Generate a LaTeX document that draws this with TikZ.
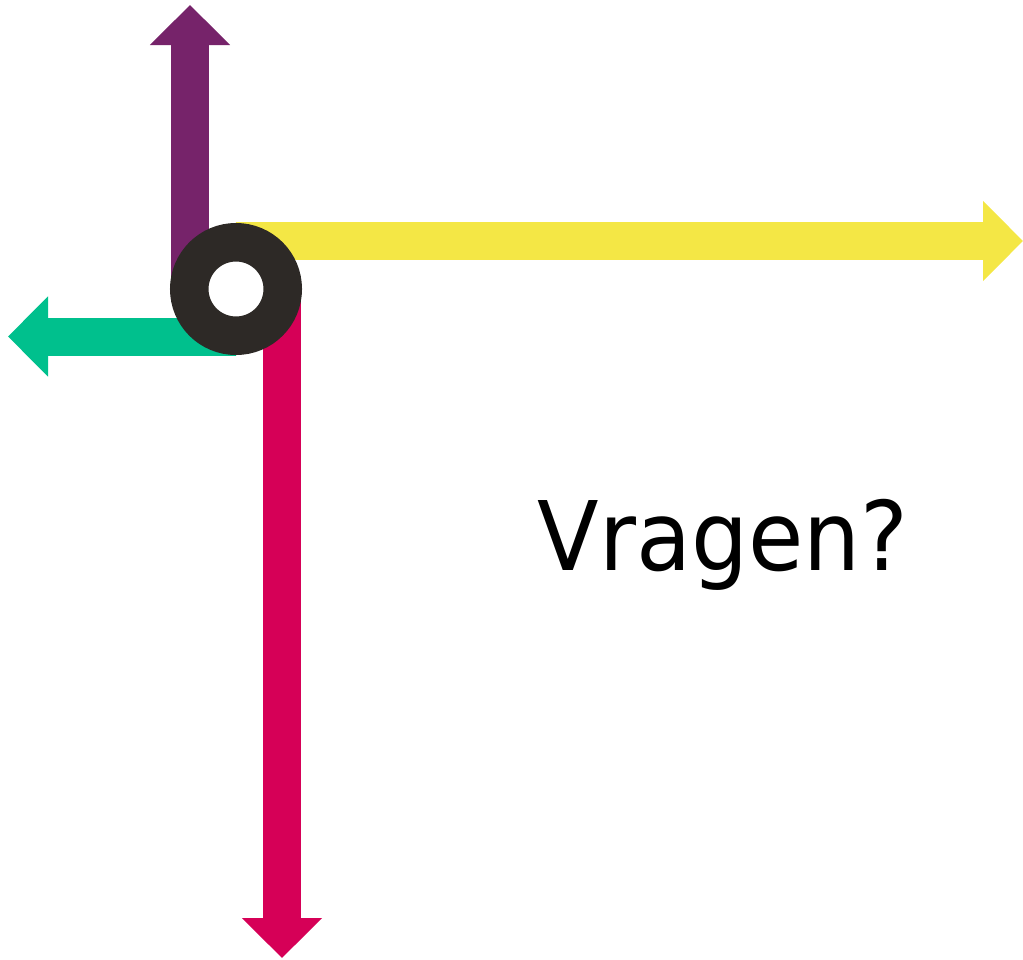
\documentclass[tikz,border=0pt]{standalone}
\usepackage{fontspec}
\usepackage{tikz}
\usetikzlibrary{positioning,calc,arrows.meta}
\newfontfamily\vragenfont{DejaVu Sans}
\definecolor{paars}{HTML}{76236A}
\definecolor{geel}{HTML}{F4E745}
\definecolor{groen}{HTML}{00C08D}
\definecolor{rood}{HTML}{D60057}
\definecolor{zwart}{HTML}{2D2926}

\begin{document}
\begin{tikzpicture}[x=0.5pt,y=-0.5pt]
            \tikzstyle{pijl}=[line width=19pt,
            -{Triangle[length=20pt,width=39pt]}]
            \tikzstyle{hub}=[circle, draw=zwart, fill=white,
            line width=19.25pt, inner sep=0pt, minimum size=46.75pt]
            \useasboundingbox (0,0) rectangle (1023,959);
            \coordinate (op) at (190,289);
            \coordinate (boven) at (190,5);
            \coordinate (links0) at (236,336.5);
            \coordinate (links) at (8,336.5);
            \coordinate (rechts0) at (236,241);
            \coordinate (rechts) at (1023,241);
            \coordinate (neer) at (282,289);
            \coordinate (onder) at (282,958);
            \path
            (op) edge [pijl, paars] (boven)
            (links0) edge [pijl, groen] (links)
            (rechts0) edge [pijl, geel] (rechts)
            (neer) edge [pijl, rood] (onder);
            \node[hub] (c) at (236,289) {};
            \node[anchor=base, inner sep=0pt, xscale=0.937, transform shape,
            font=\vragenfont\fontsize{48pt}{58pt}\selectfont] (v) at (723,570) {Vragen?};
        \end{tikzpicture}
\end{document}
